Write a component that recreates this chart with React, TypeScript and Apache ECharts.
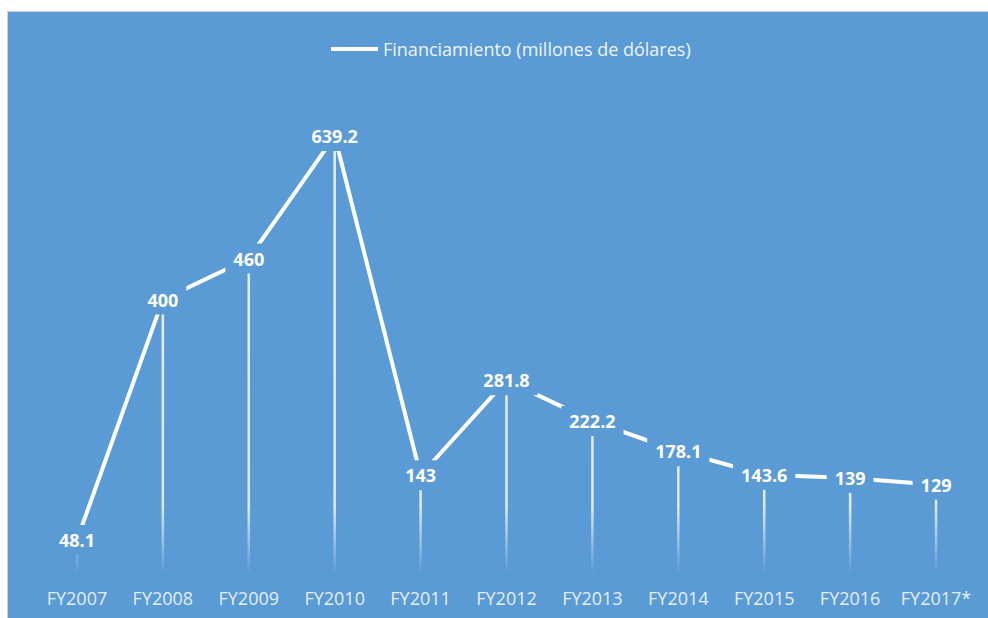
import React, { useEffect, useRef } from "react";
import * as echarts from "echarts";

const categories = ["FY2007", "FY2008", "FY2009", "FY2010", "FY2011", "FY2012", "FY2013", "FY2014", "FY2015", "FY2016", "FY2017*"];
const funding = [48.1, 400, 460, 639.2, 143, 281.8, 222.2, 178.1, 143.6, 139, 129];
const seriesName = "Financiamiento (millones de dólares)";

const BLUE = "#5B9BD5";

export default function App() {
  const ref = useRef<HTMLDivElement>(null);
  useEffect(() => {
    if (!ref.current) return;
    const chart = echarts.init(ref.current, null, { renderer: "svg" });
    chart.setOption({
      animation: false,
      backgroundColor: BLUE,
      graphic: [
        { type: "rect", shape: { x: 0, y: 0, width: 988, height: 11 }, style: { fill: "#ffffff" }, z: 100 },
        { type: "rect", shape: { x: 0, y: 0, width: 7, height: 618 }, style: { fill: "#ffffff" }, z: 100 },
        { type: "line", shape: { x1: 7.5, y1: 11.5, x2: 988, y2: 11.5 }, style: { stroke: "#c9d7e6", lineWidth: 1 }, z: 100 },
        { type: "line", shape: { x1: 7.5, y1: 11.5, x2: 7.5, y2: 618 }, style: { stroke: "#c9d7e6", lineWidth: 1 }, z: 100 },
      ],
      legend: {
        top: 35,
        left: 326,
        icon: "rect",
        itemWidth: 47,
        itemHeight: 4,
        itemGap: 9,
        data: [{ name: seriesName, itemStyle: { color: "#ffffff" } }],
        textStyle: { color: "rgba(255,255,255,0.92)", fontSize: 18, fontFamily: "Open Sans" },
      },
      grid: { left: 34, right: 9, top: 94.5, bottom: 45 },
      xAxis: {
        type: "category",
        data: categories,
        axisLine: { show: false },
        axisTick: { show: false },
        axisLabel: {
          interval: 0,
          color: "rgba(255,255,255,0.85)",
          fontSize: 18,
          fontFamily: "Open Sans",
          margin: 16,
        },
      },
      yAxis: {
        type: "value",
        min: 0,
        max: 700,
        show: false,
        splitLine: { show: false },
      },
      series: [
        {
          name: "drop",
          type: "bar",
          data: funding,
          barWidth: 2.5,
          z: 2,
          silent: true,
          itemStyle: {
            color: new echarts.graphic.LinearGradient(0, 94.5, 0, 573, [
              { offset: 0, color: "rgba(255,255,255,0.85)" },
              { offset: 0.86, color: "rgba(255,255,255,0.8)" },
              { offset: 1, color: "rgba(255,255,255,0)" },
            ], true),
          },
        },
        {
          name: seriesName,
          type: "line",
          data: funding,
          z: 3,
          symbol: "circle",
          symbolSize: 1,
          showSymbol: true,
          itemStyle: { color: "#ffffff" },
          lineStyle: { color: "#ffffff", width: 4 },
          label: {
            show: true,
            position: "inside",
            color: "#ffffff",
            fontSize: 18,
            fontWeight: "bold",
            fontFamily: "Open Sans",
            backgroundColor: BLUE,
            padding: [6, 8, 6, 8],
          },
        },
      ],
    });
    return () => chart.dispose();
  }, []);
  return <div ref={ref} style={{ position: "absolute", left: 0, top: 0, width: 988, height: 618 }} />;
}
